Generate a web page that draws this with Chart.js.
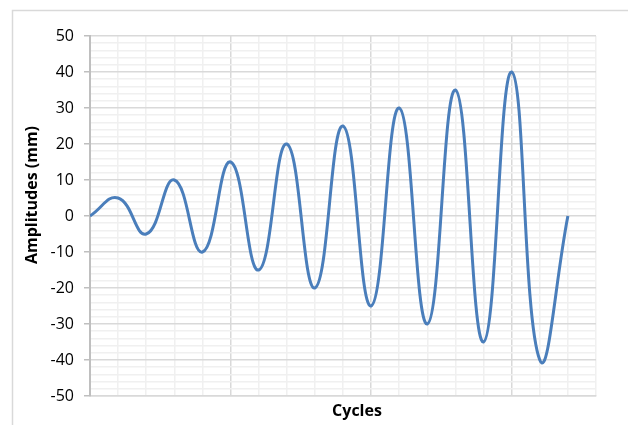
<!DOCTYPE html>
<html>
<head>
<meta charset="utf-8">
<script src="https://cdn.jsdelivr.net/npm/chart.js@4"></script>
<style>
  html, body { margin: 0; padding: 0; background: #fff; }
  #wrap { width: 628px; height: 425px; position: relative; }
</style>
</head>
<body>
<div id="wrap"><canvas id="ampChart"></canvas></div>
<script>
// cycle index and recorded amplitude peaks (mm)
const cycles = [0, 1, 2, 3, 4, 5, 6, 7, 8, 9, 10, 11, 12, 13, 14, 15, 16, 17];
const amplitudes = [0, 5, -5, 10, -10, 15, -15, 20, -20, 25, -25, 30, -30, 35, -35, 40, -40, 0];
const yTicks = [50, 40, 30, 20, 10, 0, -10, -20, -30, -40, -50];
const xTitle = 'Cycles';
const yTitle = 'Amplitudes (mm)';

const FONT = 'Open Sans, Lato, sans-serif';

// frame + axis titles, drawn straight on the canvas
const decorations = {
    id: 'decorations',
    beforeDraw(chart) {
        const ctx = chart.ctx;
        ctx.save();
        ctx.strokeStyle = '#d9d9d9';
        ctx.lineWidth = 1.5;
        ctx.strokeRect(12.5, 10.5, 700, 500);
        ctx.restore();
    },
    afterDraw(chart) {
        const ctx = chart.ctx;
        ctx.save();
        ctx.fillStyle = '#000';
        ctx.font = 'bold 16px ' + FONT;
        ctx.textAlign = 'center';
        ctx.textBaseline = 'middle';
        ctx.fillText(xTitle, 357, 411);
        ctx.translate(32, 195);
        ctx.rotate(-Math.PI / 2);
        ctx.fillText(yTitle, 0, 0);
        ctx.restore();
    }
};

const ctx = document.getElementById('ampChart').getContext('2d');
const ampChart = new Chart(ctx, {
    type: 'line',
    data: {
        datasets: [{
            data: cycles.map((c, i) => ({ x: c, y: amplitudes[i] })),
            borderColor: '#4a7ebb',
            borderWidth: 3,
            pointRadius: 0,
            tension: 0.45,
            fill: false
        }]
    },
    options: {
        responsive: true,
        maintainAspectRatio: false,
        animation: false,
        layout: { padding: { left: 0, top: 36, right: 32, bottom: 0 } },
        plugins: {
            legend: { display: false },
            tooltip: { enabled: false }
        },
        scales: {
            x: {
                type: 'linear',
                min: 0,
                max: 18,
                ticks: { stepSize: 1, display: false, autoSkip: false },
                grid: {
                    color: c => (c.tick && c.tick.value % 5 === 0) ? '#d9d9d9' : '#f0f0f0',
                    lineWidth: 1.5,
                    drawTicks: false
                },
                border: { display: true, color: '#d9d9d9', width: 1.5 },
                afterFit: s => { s.height = 29; }
            },
            y: {
                min: -50,
                max: 50,
                ticks: {
                    stepSize: 2,
                    autoSkip: false,
                    padding: 10,
                    color: '#000',
                    font: { family: FONT, size: 16 },
                    callback: v => yTicks.includes(v) ? v : ''
                },
                grid: {
                    color: c => (c.tick && c.tick.value % 10 === 0) ? '#d9d9d9' : '#f0f0f0',
                    tickColor: c => (c.tick && c.tick.value % 10 === 0) ? '#bfbfbf' : 'rgba(0,0,0,0)',
                    tickLength: 6,
                    lineWidth: 1.5
                },
                border: { display: true, color: '#bfbfbf', width: 2 },
                afterFit: s => { s.width = 90; }
            }
        }
    },
    plugins: [decorations]
});
</script>
</body>
</html>
